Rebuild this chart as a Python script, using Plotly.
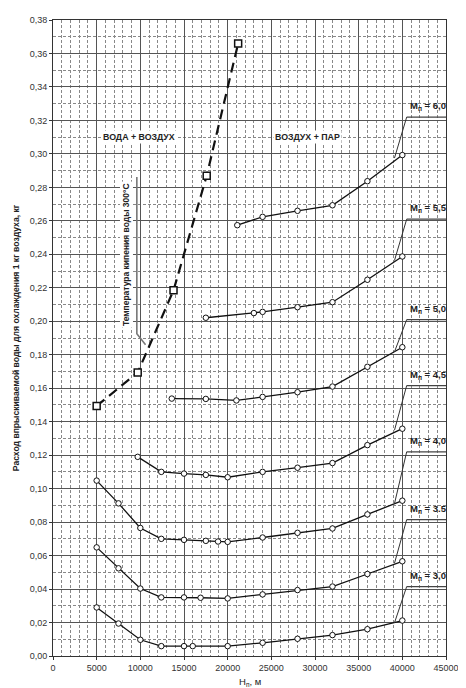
import plotly.graph_objects as go

# ---- data ----
x_ticks = [0, 5000, 10000, 15000, 20000, 25000, 30000, 35000, 40000, 45000]
x_ticklabels = ["0", "5000", "10000", "15000", "20000", "25000", "30000", "35000", "40000", "45000"]
y_ticks = [0.00, 0.02, 0.04, 0.06, 0.08, 0.10, 0.12, 0.14, 0.16, 0.18, 0.20,
           0.22, 0.24, 0.26, 0.28, 0.30, 0.32, 0.34, 0.36, 0.38]
y_ticklabels = ["0,00", "0,02", "0,04", "0,06", "0,08", "0,10", "0,12", "0,14", "0,16", "0,18", "0,20",
                "0,22", "0,24", "0,26", "0,28", "0,30", "0,32", "0,34", "0,36", "0,38"]

# boundary curve "water + air" (dashed, squares)
boundary_x = [5000, 9700, 13800, 17600, 21200]
boundary_y = [0.1494, 0.1694, 0.2185, 0.287, 0.366]

m30_x = [5000, 7500, 10000, 12400, 15000, 16000, 20000, 24000, 28000, 32000, 36000, 40000]
m30_y = [0.029, 0.0194, 0.0097, 0.0059, 0.0059, 0.0059, 0.0059, 0.0079, 0.0103, 0.0125, 0.016, 0.0212]

m35_x = [5000, 7500, 10000, 12400, 15000, 16900, 20000, 24000, 28000, 32000, 36000, 40000]
m35_y = [0.0649, 0.0524, 0.0403, 0.035, 0.035, 0.0348, 0.0344, 0.0368, 0.0394, 0.0415, 0.049, 0.0566]

m40_x = [5000, 7500, 10000, 12400, 15000, 17500, 18900, 20000, 24000, 28000, 32000, 36000, 40000]
m40_y = [0.1048, 0.0912, 0.0765, 0.070, 0.0694, 0.0688, 0.0684, 0.0682, 0.0708, 0.0736, 0.0762, 0.0846, 0.0928]

m45_x = [9700, 12400, 15000, 17500, 20000, 24000, 28000, 32000, 36000, 40000]
m45_y = [0.119, 0.110, 0.109, 0.1082, 0.1068, 0.110, 0.1125, 0.1153, 0.126, 0.1358]

m50_x = [13600, 17500, 21000, 24000, 28000, 32000, 36000, 40000]
m50_y = [0.1538, 0.1536, 0.1527, 0.1548, 0.1576, 0.161, 0.1728, 0.1845]

m55_x = [17500, 23000, 24000, 28000, 32000, 36000, 40000]
m55_y = [0.2021, 0.2049, 0.2056, 0.2084, 0.2114, 0.2248, 0.2387]

m60_x = [21100, 24000, 28000, 32000, 36000, 40000]
m60_y = [0.2574, 0.2624, 0.266, 0.2693, 0.2837, 0.2993]

series = [(m30_x, m30_y), (m35_x, m35_y), (m40_x, m40_y), (m45_x, m45_y),
          (m50_x, m50_y), (m55_x, m55_y), (m60_x, m60_y)]

m_labels = ["3,0", "3.5", "4,0", "4,5", "5,0", "5,5", "6,0"]
label_underline_y = [0.0415, 0.0815, 0.122, 0.1616, 0.201, 0.261, 0.322]
leader_tip_y = [0.0198, 0.0554, 0.091, 0.1349, 0.1817, 0.2363, 0.2975]

FONT = "Liberation Sans, Arial, sans-serif"

fig = go.Figure()

for sx, sy in series:
    fig.add_trace(go.Scatter(
        x=sx, y=sy, mode="lines+markers",
        line=dict(color="#111", width=1.3),
        marker=dict(symbol="circle", size=5.5, color="white",
                    line=dict(color="#111", width=1)),
        showlegend=False, hoverinfo="skip"))

fig.add_trace(go.Scatter(
    x=boundary_x, y=boundary_y, mode="lines+markers",
    line=dict(color="#111", width=2.2, dash="10px,6px"),
    marker=dict(symbol="square", size=7, color="white",
                line=dict(color="#111", width=1.5)),
    showlegend=False, hoverinfo="skip"))

annotations = []
shapes = []

# labels Mп with underline and leader
for lab, uy, ty in zip(m_labels, label_underline_y, leader_tip_y):
    shapes.append(dict(type="line", xref="x", yref="y", x0=40500, x1=45000, y0=uy, y1=uy,
                       line=dict(color="#444", width=1.2)))
    shapes.append(dict(type="line", xref="x", yref="y", x0=40500, x1=39100, y0=uy, y1=ty,
                       line=dict(color="#333", width=1)))
    annotations.append(dict(x=40650, y=uy + 0.0018, xref="x", yref="y",
                            text="<b>M<sub>п</sub> = " + lab + "</b>", showarrow=False,
                            xanchor="left", yanchor="bottom",
                            font=dict(family=FONT, size=9.5, color="#222")))

# boiling temperature leader
shapes.append(dict(type="path", xref="x", yref="y",
                   path="M 9600 0.2862 L 9600 0.1926 L 10600 0.186",
                   line=dict(color="#777", width=1.6)))

annotations.append(dict(x=8450, y=0.240, xref="x", yref="y", textangle=-90,
                        text="<b>Температура кипения воды 300°С</b>", showarrow=False,
                        bgcolor="white", borderpad=1,
                        font=dict(family=FONT, size=8.5, color="#222")))
annotations.append(dict(x=9900, y=0.3098, xref="x", yref="y",
                        text="<b>ВОДА + ВОЗДУХ</b>", showarrow=False,
                        bgcolor="white", borderpad=1,
                        font=dict(family=FONT, size=8.8, color="#222")))
annotations.append(dict(x=29100, y=0.3098, xref="x", yref="y",
                        text="<b>ВОЗДУХ + ПАР</b>", showarrow=False,
                        bgcolor="white", borderpad=1,
                        font=dict(family=FONT, size=8.8, color="#222")))

# axis titles
annotations.append(dict(x=0.5, y=-0.0406, xref="paper", yref="paper",
                        text="H<sub>п</sub>, м", showarrow=False,
                        xanchor="center", yanchor="middle",
                        font=dict(family=FONT, size=9.5, color="#222")))
annotations.append(dict(x=-0.0936, y=0.5, xref="paper", yref="paper", textangle=-90,
                        text="<b>Расход впрыскиваемой воды для охлаждения 1 кг воздуха, кг</b>",
                        showarrow=False, xanchor="center", yanchor="middle",
                        font=dict(family=FONT, size=8.6, color="#222")))

# page body has an 8px margin, so the figure is 8px smaller and offset accordingly
fig.update_layout(
    width=458, height=680,
    margin=dict(l=45, r=14, t=7, b=32),
    paper_bgcolor="white", plot_bgcolor="white",
    annotations=annotations, shapes=shapes,
    font=dict(family=FONT, size=9, color="#333"),
)

fig.update_xaxes(
    range=[0, 45000], tickvals=x_ticks, ticktext=x_ticklabels,
    showgrid=True, gridcolor="#555", gridwidth=1,
    minor=dict(dtick=1000, tick0=0, showgrid=True, gridcolor="#888", griddash="3px,2px", gridwidth=1),
    showline=True, linecolor="#333", linewidth=1, mirror=True,
    ticks="outside", ticklen=3, tickcolor="#333",
    zeroline=False, tickfont=dict(family=FONT, size=9, color="#333"),
)
fig.update_yaxes(
    range=[0, 0.38], tickvals=y_ticks, ticktext=y_ticklabels,
    showgrid=True, gridcolor="#555", gridwidth=1,
    minor=dict(dtick=0.01, tick0=0, showgrid=True, gridcolor="#888", griddash="3px,2px", gridwidth=1),
    showline=True, linecolor="#333", linewidth=1, mirror=True,
    ticks="outside", ticklen=3, tickcolor="#333",
    zeroline=False, tickfont=dict(family=FONT, size=9, color="#333"),
)

fig.write_html("out.html")
